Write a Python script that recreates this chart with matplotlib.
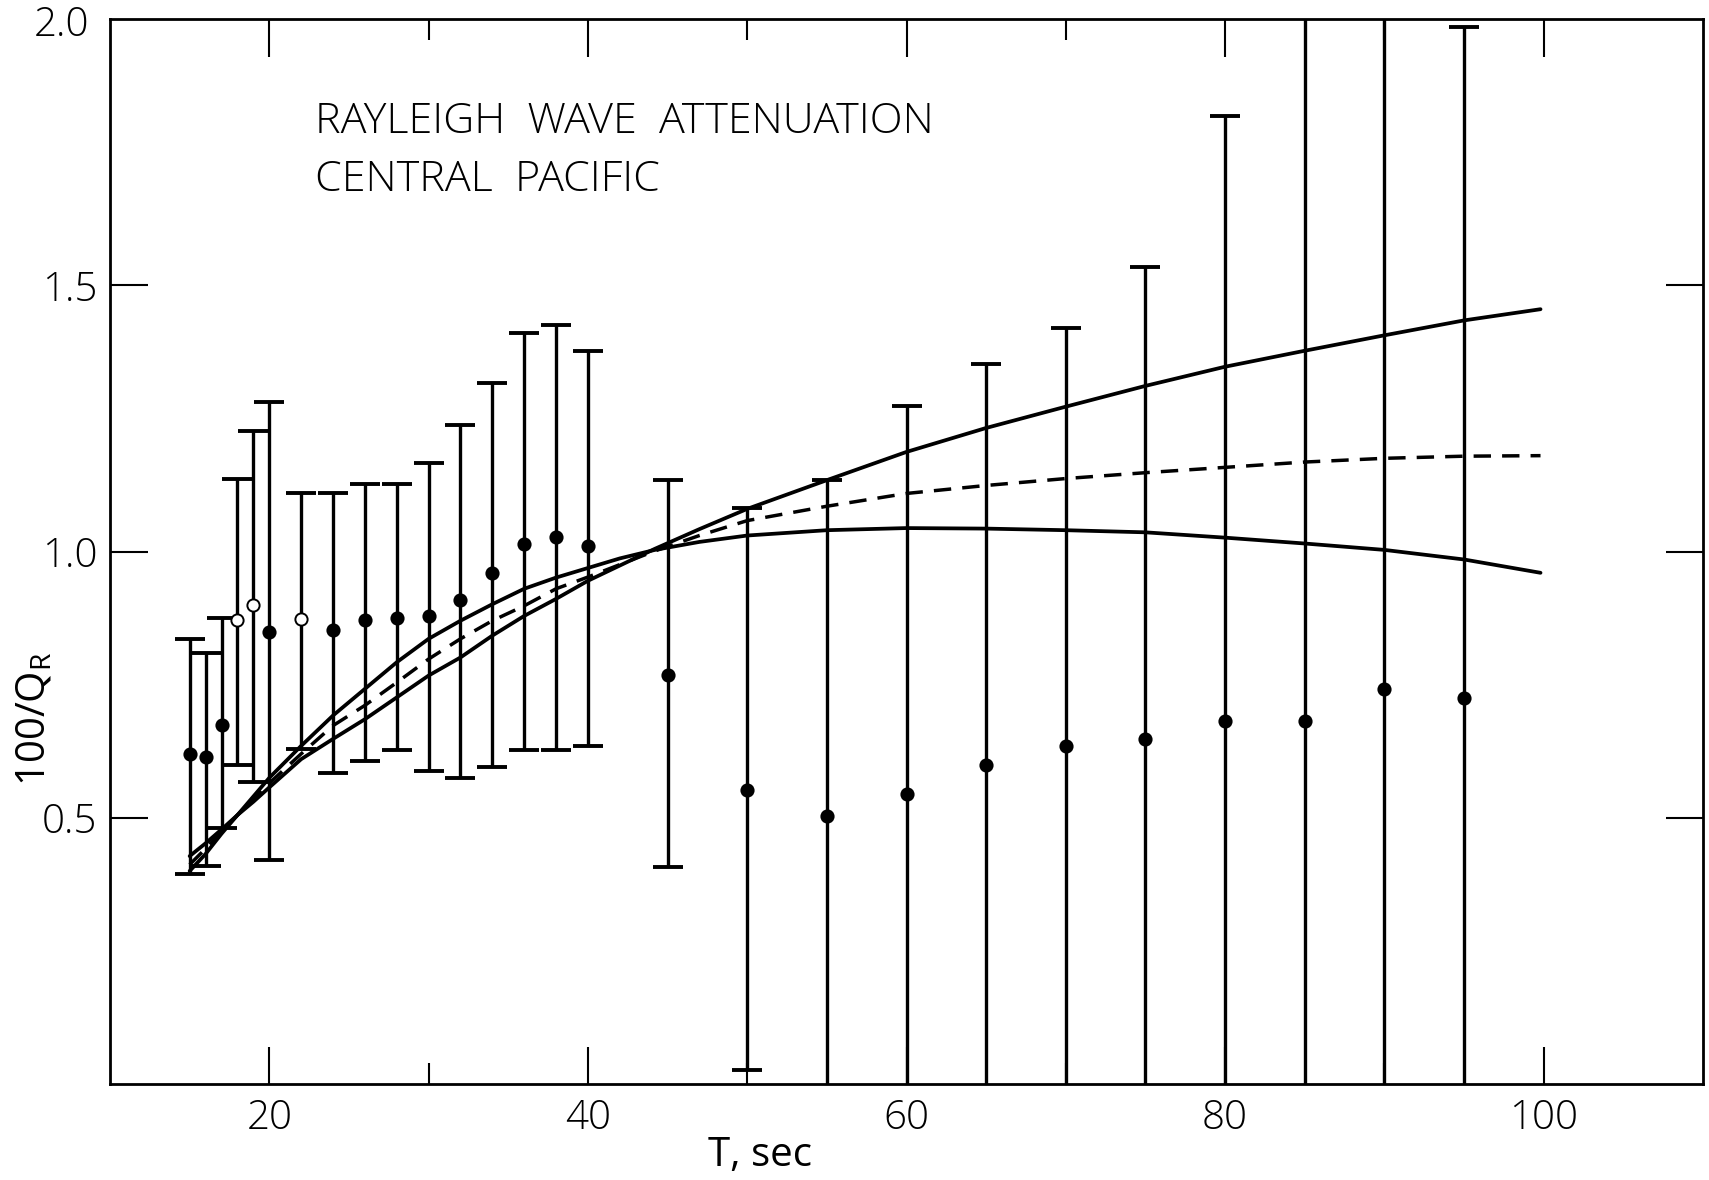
import matplotlib
matplotlib.use("Agg")
import matplotlib.pyplot as plt
from matplotlib.ticker import FixedLocator, NullFormatter

plt.rcParams['font.family'] = ['Open Sans', 'DejaVu Sans']
plt.rcParams['font.weight'] = 'light'

# Observed attenuation: period (s), 100/Q_R, upper and lower error limits
period = [15, 16, 17, 18, 19, 20, 22, 24, 26, 28, 30, 32, 34, 36, 38, 40,
          45, 50, 55, 60, 65, 70, 75, 80, 85, 90, 95]
q_inv = [0.620, 0.614, 0.675, 0.871, 0.900, 0.848, 0.873, 0.852, 0.872, 0.876,
         0.878, 0.909, 0.959, 1.015, 1.027, 1.010,
         0.768, 0.552, 0.503, 0.545, 0.600, 0.635, 0.647, 0.681, 0.681, 0.742, 0.725]
q_upper = [0.835, 0.810, 0.876, 1.136, 1.227, 1.280, 1.110, 1.110, 1.127, 1.127,
           1.167, 1.237, 1.317, 1.410, 1.426, 1.376,
           1.134, 1.082, 1.134, 1.274, 1.353, 1.419, 1.535, 1.818, 2.30, 2.30, 1.985]
q_lower = [0.395, 0.410, 0.481, 0.600, 0.567, 0.421, 0.630, 0.584, 0.607, 0.628,
           0.587, 0.575, 0.596, 0.628, 0.627, 0.634,
           0.408, 0.026, -0.30, -0.30, -0.30, -0.30, -0.30, -0.30, -0.30, -0.30, -0.30]
open_symbol = [False, False, False, True, True, False, True, False, False, False,
               False, False, False, False, False, False,
               False, False, False, False, False, False, False, False, False, False, False]

# Model curves
model_a_T = [15, 16, 17, 18, 19, 20, 22, 24, 26, 28, 30, 32, 34, 36, 38, 40, 42, 44.2,
             47, 50, 55, 60, 65, 70, 75, 80, 85, 90, 95, 99.8]
model_a_q = [0.400, 0.432, 0.470, 0.505, 0.540, 0.575, 0.635, 0.692, 0.742, 0.792,
             0.836, 0.870, 0.901, 0.930, 0.951, 0.969, 0.987, 1.003,
             1.018, 1.030, 1.040, 1.044, 1.043, 1.040, 1.036, 1.026, 1.015, 1.003, 0.985, 0.960]

model_b_T = [15, 16, 17, 18, 19, 20, 22, 24, 26, 28, 30, 32, 34, 36, 38, 40, 44.2,
             47, 50, 55, 60, 65, 70, 75, 80, 85, 90, 95, 99.8]
model_b_q = [0.428, 0.452, 0.478, 0.505, 0.530, 0.557, 0.610, 0.648, 0.685, 0.726,
             0.767, 0.801, 0.842, 0.879, 0.911, 0.945, 1.005,
             1.042, 1.080, 1.134, 1.187, 1.232, 1.272, 1.311, 1.347, 1.377, 1.406, 1.434, 1.455]

model_c_T = [15, 16, 17, 18, 19, 20, 22, 24, 26, 28, 30, 32, 34, 36, 38, 40, 44.2,
             47, 50, 55, 60, 65, 70, 75, 80, 85, 90, 95, 99.8]
model_c_q = [0.412, 0.442, 0.474, 0.505, 0.535, 0.565, 0.620, 0.673, 0.711, 0.754,
             0.798, 0.836, 0.870, 0.898, 0.930, 0.952, 1.001,
             1.030, 1.058, 1.085, 1.109, 1.124, 1.137, 1.148, 1.158, 1.168, 1.175, 1.179, 1.180]

x_major = [20, 40, 60, 80, 100]
x_minor = [30, 50, 70, 90]
y_major = [0.5, 1.0, 1.5]
x_labels = ['20', '40', '60', '80', '100']
y_labels = ['0.5', '1.0', '1.5']

W, H = 1709, 1180
fig = plt.figure(figsize=(W / 100, H / 100), dpi=100)
ax = fig.add_axes([110 / W, 1 - 1084 / H, 1593 / W, 1065 / H])
ax.set_xlim(10, 110)
ax.set_ylim(0, 2.0)

ink = 'black'

# error bars
yerr = [[q - lo for q, lo in zip(q_inv, q_lower)],
        [hi - q for q, hi in zip(q_inv, q_upper)]]
ax.errorbar(period, q_inv, yerr=yerr, fmt='none', ecolor=ink, elinewidth=2.4,
            capsize=11, capthick=2.8, zorder=3)

# symbols: filled and open
for T, q, hollow in zip(period, q_inv, open_symbol):
    ax.plot(T, q, 'o', ms=8.8, mfc='white' if hollow else ink, mec=ink,
            mew=1.4, zorder=5)

# model curves
ax.plot(model_a_T, model_a_q, color=ink, lw=2.7, solid_capstyle='round', zorder=4)
ax.plot(model_b_T, model_b_q, color=ink, lw=2.7, solid_capstyle='round', zorder=4)
ax.plot(model_c_T, model_c_q, color=ink, lw=2.5, linestyle=(0, (5.0, 3.2)), zorder=4)

# frame and ticks
for s in ax.spines.values():
    s.set_linewidth(2.0)
    s.set_color(ink)

ax.xaxis.set_major_locator(FixedLocator(x_major))
ax.xaxis.set_minor_locator(FixedLocator(x_minor))
ax.set_xticklabels(x_labels)
ax.yaxis.set_major_locator(FixedLocator(y_major))
ax.set_yticklabels(y_labels)
ax.yaxis.set_minor_formatter(NullFormatter())

ax.tick_params(axis='both', which='major', direction='in', length=27, width=1.5,
               top=True, right=True, labelsize=29, colors=ink)
ax.tick_params(axis='x', which='minor', direction='in', length=15, width=1.5,
               top=True, bottom=True)
ax.tick_params(axis='x', which='major', pad=10)
ax.tick_params(axis='y', which='major', pad=9)

# corner label for the top of the scale
ax.text(-0.013, 0.994, '2.0', transform=ax.transAxes, ha='right', va='center',
        fontsize=29, color=ink)

ax.set_xlabel('T, sec', fontsize=29, color=ink, va='center', ha='center')
ax.xaxis.set_label_coords(0.408, -0.067)
ax.set_ylabel(r'100/Q$_\mathregular{R}$', fontsize=29, color=ink,
              va='center', ha='center')
ax.yaxis.set_label_coords(-0.047, 0.343)

ax.text(22.9, 1.786, 'RAYLEIGH  WAVE  ATTENUATION', fontsize=31, color=ink,
        ha='left', va='baseline')
ax.text(22.9, 1.677, 'CENTRAL  PACIFIC', fontsize=31, color=ink,
        ha='left', va='baseline')

fig.savefig('out.png', dpi=100, facecolor='white')
